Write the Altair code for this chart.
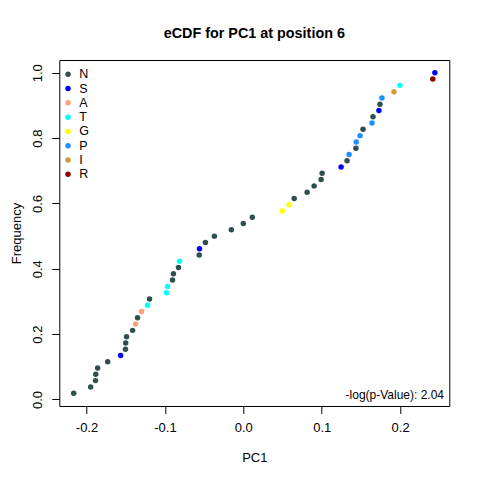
import altair as alt
import pandas as pd

# PC1 values (sorted) and residue of each point
pc1 = [-0.2163, -0.1947, -0.1885, -0.1882, -0.1858, -0.1730, -0.1565, -0.1503,
       -0.1500, -0.1489, -0.1412, -0.1374, -0.1349, -0.1298, -0.1221, -0.1196,
       -0.0980, -0.0967, -0.0903, -0.0891, -0.0827, -0.0814, -0.0562, -0.0559,
       -0.0483, -0.0369, -0.0153, 0.0000, 0.0115, 0.0496, 0.0585, 0.0649,
       0.0814, 0.0903, 0.0992, 0.1005, 0.1247, 0.1323, 0.1349, 0.1436,
       0.1440, 0.1489, 0.1527, 0.1641, 0.1654, 0.1730, 0.1743, 0.1768,
       0.1921, 0.1997, 0.2417, 0.2443]
residue = ["N", "N", "N", "N", "N", "N", "S", "N", "N", "N", "N", "A", "N", "A",
           "T", "N", "T", "T", "N", "N", "N", "T", "N", "S", "N", "N", "N", "N",
           "N", "G", "G", "N", "N", "N", "N", "N", "S", "N", "P", "N", "P", "P",
           "N", "P", "N", "S", "N", "P", "I", "T", "R", "S"]

levels = ["N", "S", "A", "T", "G", "P", "I", "R"]
colors = ["#2F4F4F", "#0000FF", "#FFA07A", "#00FFFF", "#FFFF00", "#1E90FF",
          "#CD9B3A", "#8B0000"]
x_ticks = [-0.2, -0.1, 0.0, 0.1, 0.2]
y_ticks = [0.0, 0.2, 0.4, 0.6, 0.8, 1.0]
annotation = ["-log(p-Value): 2.04"]

df = pd.DataFrame({"PC1": pc1, "residue": residue})

W, H = 390, 346
FONT = "Liberation Sans"
label_expr = ("datum.value < 0 ? '-' + format(-datum.value, '.1f') "
              ": format(datum.value, '.1f')")

points = alt.Chart(df).transform_window(
    rank="row_number()", sort=[alt.SortField("PC1")]
).transform_joinaggregate(
    n="count()"
).transform_calculate(
    Frequency="datum.rank / datum.n"
).mark_circle(size=30, opacity=1).encode(
    x=alt.X("PC1:Q",
            scale=alt.Scale(domain=[-0.2347, 0.2627], nice=False, zero=False),
            axis=alt.Axis(values=x_ticks, labelExpr=label_expr, tickSize=7.5,
                          labelPadding=14, labelBaseline="middle",
                          title="PC1", titleY=52, titleBaseline="middle")),
    y=alt.Y("Frequency:Q",
            scale=alt.Scale(domain=[-0.0200, 1.0392], nice=False, zero=False),
            axis=alt.Axis(values=y_ticks, labelExpr=label_expr, tickSize=7.5,
                          labelAngle=270, labelAlign="center",
                          labelBaseline="middle", labelPadding=14,
                          title="Frequency", titleAngle=270, titleX=-43,
                          titleY=H / 2, titleAlign="center",
                          titleBaseline="middle")),
    color=alt.Color("residue:N",
                    scale=alt.Scale(domain=levels, range=colors),
                    legend=alt.Legend(title=None, orient="none", legendX=2.5,
                                      legendY=8, symbolType="circle",
                                      symbolSize=30, symbolStrokeWidth=0,
                                      labelFontSize=12.5, labelFont=FONT,
                                      labelColor="black", labelOffset=5,
                                      rowPadding=1.3, padding=0)),
)

text = alt.Chart(pd.DataFrame({"label": annotation})).mark_text(
    align="right", baseline="middle", fontSize=12, font=FONT, color="black"
).encode(
    x=alt.value(384.7), y=alt.value(334.7), text="label:N"
)

chart = alt.layer(points, text).properties(
    width=W, height=H,
    title=alt.Title("eCDF for PC1 at position 6", font=FONT, fontSize=14.4,
                    fontWeight="bold", color="black", anchor="middle",
                    frame="group", baseline="alphabetic", offset=8),
    padding={"left": 51.3, "top": 52, "right": 20, "bottom": 60},
    autosize=alt.AutoSizeParams(type="none"),
).configure_view(
    stroke="black", strokeWidth=1
).configure_axis(
    grid=False, domain=False, tickColor="black", tickWidth=1,
    labelFont=FONT, labelFontSize=13, labelColor="black",
    titleFont=FONT, titleFontSize=13, titleFontWeight="normal",
    titleColor="black"
)

chart.save("out.html", embed_options={"renderer": "svg", "actions": False})
